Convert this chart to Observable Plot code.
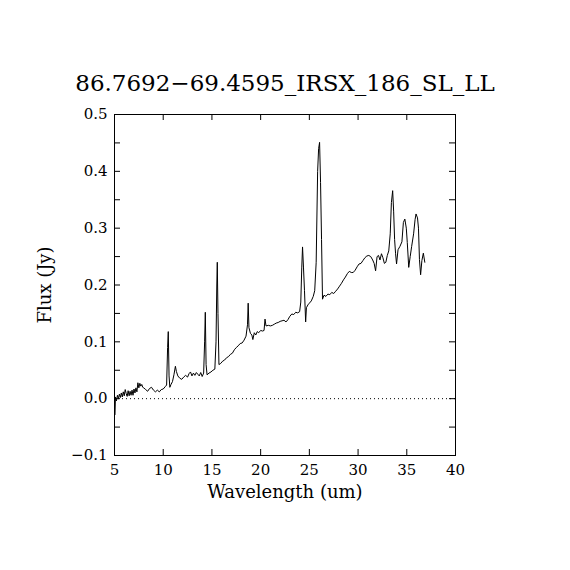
<!DOCTYPE html>
<html>
<head>
<meta charset="utf-8">
<script src="https://cdn.jsdelivr.net/npm/d3@7"></script>
<script src="https://cdn.jsdelivr.net/npm/@observablehq/plot@0.6"></script>
<style>
  html, body { margin: 0; padding: 0; background: #fff; color: #000; }
</style>
</head>
<body>
<div id="chart"></div>
<script>
const titleText = "86.7692\u221269.4595_IRSX_186_SL_LL";
const xLabel = "Wavelength (um)";
const yLabel = "Flux (Jy)";
const xTicks = [5, 10, 15, 20, 25, 30, 35, 40];
const yTicks = [-0.1, 0, 0.1, 0.2, 0.3, 0.4, 0.5];
const yMinorTicks = [-0.05, 0.05, 0.15, 0.25, 0.35, 0.45];

const wavelength = [
  5.05, 5.1, 5.2, 5.3, 5.4, 5.5, 5.6, 5.7, 5.8, 5.9,
  6.0, 6.1, 6.2, 6.3, 6.4, 6.5, 6.6, 6.7, 6.8, 6.9,
  7.0, 7.1, 7.2, 7.3, 7.4, 7.5, 7.6, 7.7, 7.8, 7.9,
  8.0, 8.2, 8.4, 8.6, 8.8, 9.0, 9.2, 9.4, 9.6, 9.8,
  10.0, 10.2, 10.35, 10.45, 10.52, 10.6, 10.68, 10.8, 10.95, 11.1,
  11.25, 11.35, 11.5, 11.7, 11.9, 12.1, 12.3, 12.5, 12.65, 12.8,
  12.95, 13.1, 13.25, 13.4, 13.55, 13.7, 13.85, 14.0, 14.15, 14.25,
  14.32, 14.4, 14.5, 14.7, 14.9, 15.1, 15.3, 15.42, 15.5, 15.55,
  15.62, 15.72, 15.9, 16.1, 16.3, 16.5, 16.7, 16.9, 17.1, 17.3,
  17.5, 17.7, 17.9, 18.1, 18.3, 18.5, 18.65, 18.72, 18.8, 18.95,
  19.1, 19.2, 19.35, 19.5, 19.65, 19.8, 20.0, 20.2, 20.35, 20.45,
  20.55, 20.8, 21.0, 21.2, 21.4, 21.6, 21.8, 22.0, 22.2, 22.4,
  22.6, 22.8, 23.0, 23.2, 23.4, 23.6, 23.8, 24.0, 24.12, 24.22,
  24.3, 24.4, 24.5, 24.62, 24.7, 24.85, 25.0, 25.2, 25.4, 25.55,
  25.7, 25.85, 25.95, 26.05, 26.15, 26.25, 26.35, 26.5, 26.7, 26.9,
  27.1, 27.3, 27.5, 27.7, 27.9, 28.1, 28.3, 28.5, 28.7, 28.9,
  29.1, 29.3, 29.5, 29.7, 29.9, 30.1, 30.3, 30.5, 30.7, 30.9,
  31.1, 31.3, 31.5, 31.65, 31.8, 31.95, 32.1, 32.25, 32.4, 32.55,
  32.7, 32.85, 33.0, 33.15, 33.3, 33.42, 33.55, 33.65, 33.75, 33.85,
  33.95, 34.1, 34.3, 34.5, 34.65, 34.8, 34.95, 35.05, 35.2, 35.35,
  35.5, 35.7, 35.85, 35.95, 36.1, 36.2, 36.3, 36.42, 36.55, 36.7,
  36.85
];
const flux = [
  -0.028, 0.003, -0.004, 0.006, 0.000, 0.008, 0.002, 0.010, 0.003, 0.012,
  0.005, 0.016, 0.009, 0.004, 0.014, 0.005, 0.013, 0.006, 0.015, 0.006,
  0.017, 0.010, 0.019, 0.012, 0.028, 0.019, 0.027, 0.022, 0.025, 0.020,
  0.019, 0.016, 0.013, 0.018, 0.020, 0.015, 0.012, 0.015, 0.012, 0.016,
  0.017, 0.021, 0.024, 0.090, 0.118, 0.040, 0.020, 0.025, 0.030, 0.042,
  0.057, 0.048, 0.040, 0.036, 0.034, 0.038, 0.041, 0.038, 0.044, 0.047,
  0.040, 0.045, 0.041, 0.046, 0.043, 0.040, 0.046, 0.039, 0.045, 0.100,
  0.152, 0.060, 0.042, 0.045, 0.047, 0.050, 0.052, 0.100, 0.200, 0.240,
  0.150, 0.060, 0.062, 0.066, 0.068, 0.072, 0.074, 0.078, 0.080, 0.086,
  0.090, 0.093, 0.097, 0.098, 0.103, 0.110, 0.130, 0.168, 0.125, 0.115,
  0.112, 0.104, 0.116, 0.112, 0.118, 0.116, 0.120, 0.119, 0.120, 0.140,
  0.128, 0.129, 0.128, 0.129, 0.131, 0.133, 0.134, 0.136, 0.137, 0.138,
  0.135, 0.139, 0.145, 0.149, 0.148, 0.152, 0.151, 0.153, 0.170, 0.230,
  0.267, 0.230, 0.190, 0.135, 0.160, 0.165, 0.168, 0.172, 0.180, 0.190,
  0.240, 0.400, 0.440, 0.451, 0.380, 0.280, 0.175, 0.182, 0.180, 0.184,
  0.183, 0.187, 0.185, 0.189, 0.193, 0.198, 0.203, 0.209, 0.214, 0.220,
  0.224, 0.222, 0.222, 0.226, 0.232, 0.237, 0.238, 0.243, 0.248, 0.251,
  0.252, 0.250, 0.244, 0.238, 0.225, 0.250, 0.252, 0.244, 0.255, 0.248,
  0.238, 0.240, 0.252, 0.260, 0.290, 0.345, 0.366, 0.330, 0.280, 0.255,
  0.237, 0.262, 0.268, 0.276, 0.310, 0.316, 0.300, 0.275, 0.231, 0.250,
  0.268, 0.290, 0.315, 0.325, 0.318, 0.300, 0.245, 0.218, 0.243, 0.256,
  0.240
];

const spectrum = wavelength.map((w, i) => ({w, f: flux[i]}));
const font = "DejaVu Serif";
const fmtY = d3.format(".1f");

const chart = Plot.plot({
  width: 570,
  height: 570,
  marginTop: 114,
  marginBottom: 115,
  marginLeft: 114,
  marginRight: 115,
  style: {background: "#fff", color: "#000", fontFamily: font},
  x: {domain: [5, 40], axis: null},
  y: {domain: [-0.1, 0.5], axis: null},
  marks: [
    Plot.ruleY([0], {stroke: "#000", strokeWidth: 1, strokeDasharray: "1,3"}),
    Plot.line(spectrum, {x: "w", y: "f", stroke: "#000", strokeWidth: 1}),
    Plot.ruleX(xTicks, {x: d => d, insetTop: 335, stroke: "#000"}),
    Plot.ruleX(xTicks, {x: d => d, insetBottom: 335, stroke: "#000"}),
    Plot.ruleY(yTicks.concat(yMinorTicks), {y: d => d, insetRight: 335, stroke: "#000"}),
    Plot.ruleY(yTicks.concat(yMinorTicks), {y: d => d, insetLeft: 335, stroke: "#000"}),
    Plot.frame({stroke: "#000", strokeWidth: 1}),
    Plot.axisX(xTicks, {anchor: "bottom", tickSize: 0, tickPadding: 9, fontSize: 15, fontFamily: font, label: null, tickFormat: d => String(d)}),
    Plot.axisY(yTicks, {anchor: "left", tickSize: 0, tickPadding: 7, fontSize: 15, fontFamily: font, label: null, tickFormat: fmtY}),
    Plot.text([xLabel], {frameAnchor: "bottom", dy: 37, lineAnchor: "middle", textAnchor: "middle", fontSize: 18, fontFamily: font, fill: "#000"}),
    Plot.text([yLabel], {frameAnchor: "left", dx: -69, rotate: -90, lineAnchor: "middle", textAnchor: "middle", fontSize: 18, fontFamily: font, fill: "#000"}),
    Plot.text([titleText], {frameAnchor: "top", dy: -31, lineAnchor: "middle", textAnchor: "middle", fontSize: 23, fontFamily: font, fill: "#000"})
  ]
});
document.getElementById("chart").appendChild(chart);
</script>
</body>
</html>
